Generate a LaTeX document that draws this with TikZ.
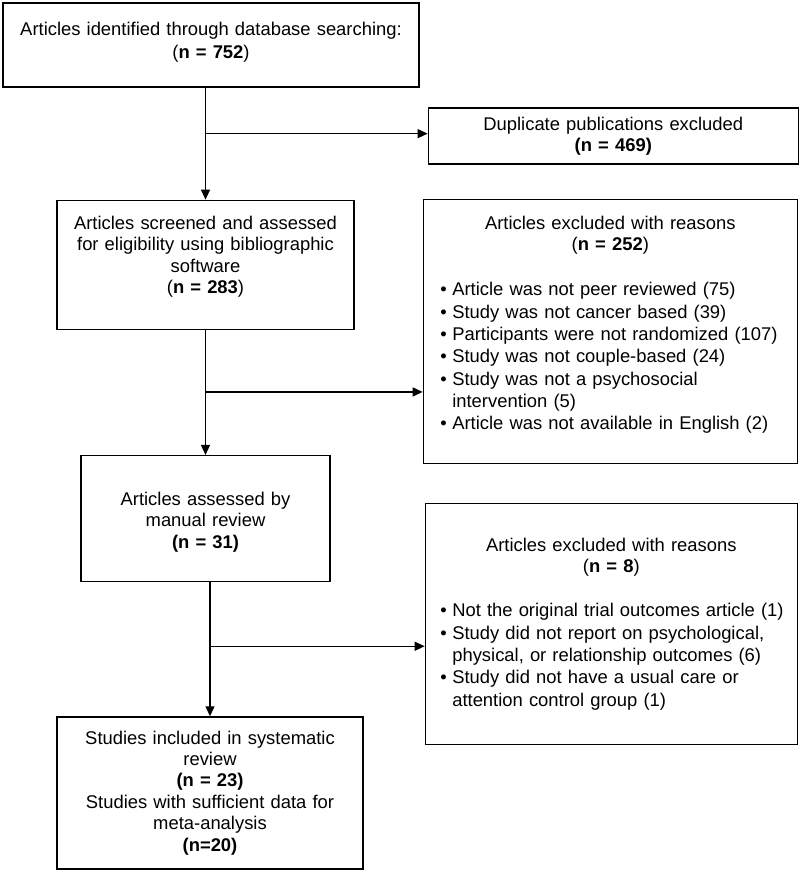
\documentclass[tikz,border=0pt]{standalone}
\usepackage{fontspec}
\setmainfont{Liberation Sans}
\usetikzlibrary{positioning, calc, arrows.meta}

\newcommand{\bitem}[1]{\par\noindent\makebox[12pt][l]{\textbullet}\mbox{#1}}
\newcommand{\bcont}[1]{\par\noindent\hspace*{12pt}\mbox{#1}}

\tikzset{
	box/.style={rectangle, draw, line width=1.3pt, inner sep=0pt, align=center, font=\fontsize{18.4}{21.4}\selectfont},
	listbox/.style={box, align=left},
	arr/.style={-{Triangle[length=10pt, width=9pt]}, line width=1.3pt}
}

\begin{document}
\begin{tikzpicture}[x=1pt, y=1pt]
			\useasboundingbox (0,0) rectangle (800,-870);
			
			\node[box, minimum width=416pt, minimum height=84pt, text width=406pt] (ident) at (211,-45) {Articles identified through database searching:\\[2pt] (\textbf{n = 752})\par\kern5pt};
			
			\node[box, minimum width=370pt, minimum height=56pt, text width=360pt, below right=105pt and 8pt of ident.north east] (dup) {Duplicate publications excluded\\ \textbf{(n = 469)}};
			
			\node[box, minimum width=297pt, minimum height=129pt, text width=287pt, below=112pt of ident, xshift=-5.5pt] (screen) {Articles screened and assessed\\ for eligibility using bibliographic\\ software\\ (\textbf{n = 283})\par\kern16pt};
			
			\node[listbox, minimum width=374pt, minimum height=264pt, text width=340pt, below right=-1pt and 68pt of screen.north east] (excl1) {{\centering Articles excluded with reasons\\ (\textbf{n = 252})\par}\baselineskip=22.3pt\vspace{22.7pt}
				\bitem{Article was not peer reviewed (75)}
				\bitem{Study was not cancer based (39)}
				\bitem{Participants were not randomized (107)}
				\bitem{Study was not couple-based (24)}
				\bitem{Study was not a psychosocial}
				\bcont{intervention (5)}
				\bitem{Article was not available in English (2)}\par\kern13pt};
			
			\node[box, minimum width=249pt, minimum height=126pt, text width=239pt, below=125pt of screen] (manual) {Articles assessed by\\ manual review\\ \textbf{(n = 31)}\par\kern-7pt};
			
			\node[listbox, minimum width=372pt, minimum height=241pt, text width=342pt, below right=48pt and 94pt of manual.north east] (excl2) {{\centering Articles excluded with reasons\\ (\textbf{n = 8})\par}\baselineskip=22.3pt\vspace{21.7pt}
				\bitem{Not the original trial outcomes article (1)}
				\bitem{Study did not report on psychological,}
				\bcont{physical, or relationship outcomes (6)}
				\bitem{Study did not have a usual care or}
				\bcont{attention control group (1)}\par};
			
			\node[box, minimum width=306pt, minimum height=152pt, text width=296pt, below=134pt of manual, xshift=4.5pt] (incl) {Studies included in systematic\\ review\\ \textbf{(n = 23)}\\ Studies with sufficient data for\\ meta-analysis\\ \textbf{(n=20)}};
			
			% flow down the left column, exclusions branch off to the right
			\draw[arr] (ident.south -| screen.north) -- (screen.north);
			\coordinate (j1) at ($(ident.south -| screen.north)+(0,-46)$);
			\draw[arr] (j1) -- (j1 -| dup.west);
			
			\draw[arr] (screen.south) -- (manual.north);
			\coordinate (j2) at ($(screen.south)+(0,-62)$);
			\draw[arr] (j2) -- (j2 -| excl1.west);
			
			\draw[arr] (manual.south -| incl.north) -- (incl.north);
			\coordinate (j3) at ($(manual.south -| incl.north)+(0,-64)$);
			\draw[arr] (j3) -- (j3 -| excl2.west);
\end{tikzpicture}
\end{document}
